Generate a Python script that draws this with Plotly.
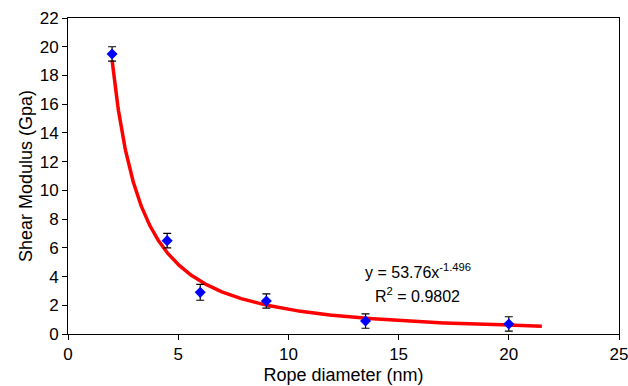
import numpy as np
import plotly.graph_objects as go

diameter = [2, 4.5, 6, 9, 13.5, 20]
modulus = [19.5, 6.5, 2.9, 2.3, 0.9, 0.7]
err = [0.5, 0.5, 0.55, 0.5, 0.5, 0.5]
fit_a = 53.76
fit_b = -1.496
fit_range = [2, 21.5]
x_ticks = [0, 5, 10, 15, 20, 25]
y_ticks = list(range(0, 23, 2))

xf = np.linspace(fit_range[0], fit_range[1], 600)
yf = fit_a * xf ** fit_b

font = "Liberation Sans, Arial, sans-serif"
fig = go.Figure()
fig.add_trace(go.Scatter(x=xf, y=yf, mode="lines", line=dict(color="#ff0000", width=3.5),
                         showlegend=False, hoverinfo="skip"))
fig.add_trace(go.Scatter(x=diameter, y=modulus, mode="markers",
                         marker=dict(symbol="diamond", color="#0000ff", size=8.5),
                         error_y=dict(type="data", array=err, color="black", thickness=1.2, width=4),
                         showlegend=False))
fig.add_annotation(x=13.4, y=4.4, xref="x", yref="y", xanchor="left", yanchor="middle",
                   text="y = 53.76x<sup>-1.496</sup>", showarrow=False,
                   font=dict(family=font, size=16, color="black"))
fig.add_annotation(x=13.85, y=2.75, xref="x", yref="y", xanchor="left", yanchor="middle",
                   text="R<sup>2</sup> = 0.9802", showarrow=False,
                   font=dict(family=font, size=16, color="black"))
fig.update_layout(
    width=628, height=386, margin=dict(l=68, r=9, t=18, b=52),
    plot_bgcolor="white", paper_bgcolor="white",
    font=dict(family=font, size=17, color="black"),
    xaxis=dict(range=[0, 25], tickvals=x_ticks, showline=True, linecolor="black", linewidth=1,
               mirror=True, ticks="outside", ticklen=5, tickcolor="black", showgrid=False,
               zeroline=False, automargin=False, ticklabeloverflow="allow",
               title=dict(text="Rope diameter (nm)", standoff=4, font=dict(size=18))),
    yaxis=dict(range=[0, 22], tickvals=y_ticks, showline=True, linecolor="black", linewidth=1,
               mirror=True, ticks="outside", ticklen=5, tickcolor="black", showgrid=False,
               zeroline=False, automargin=False, ticklabeloverflow="allow",
               title=dict(text="Shear Modulus (Gpa)", standoff=2, font=dict(size=18))),
)
fig.write_html("out.html", config={"displayModeBar": False},
               post_script="document.body.style.margin='0';document.body.style.overflow='hidden';")
